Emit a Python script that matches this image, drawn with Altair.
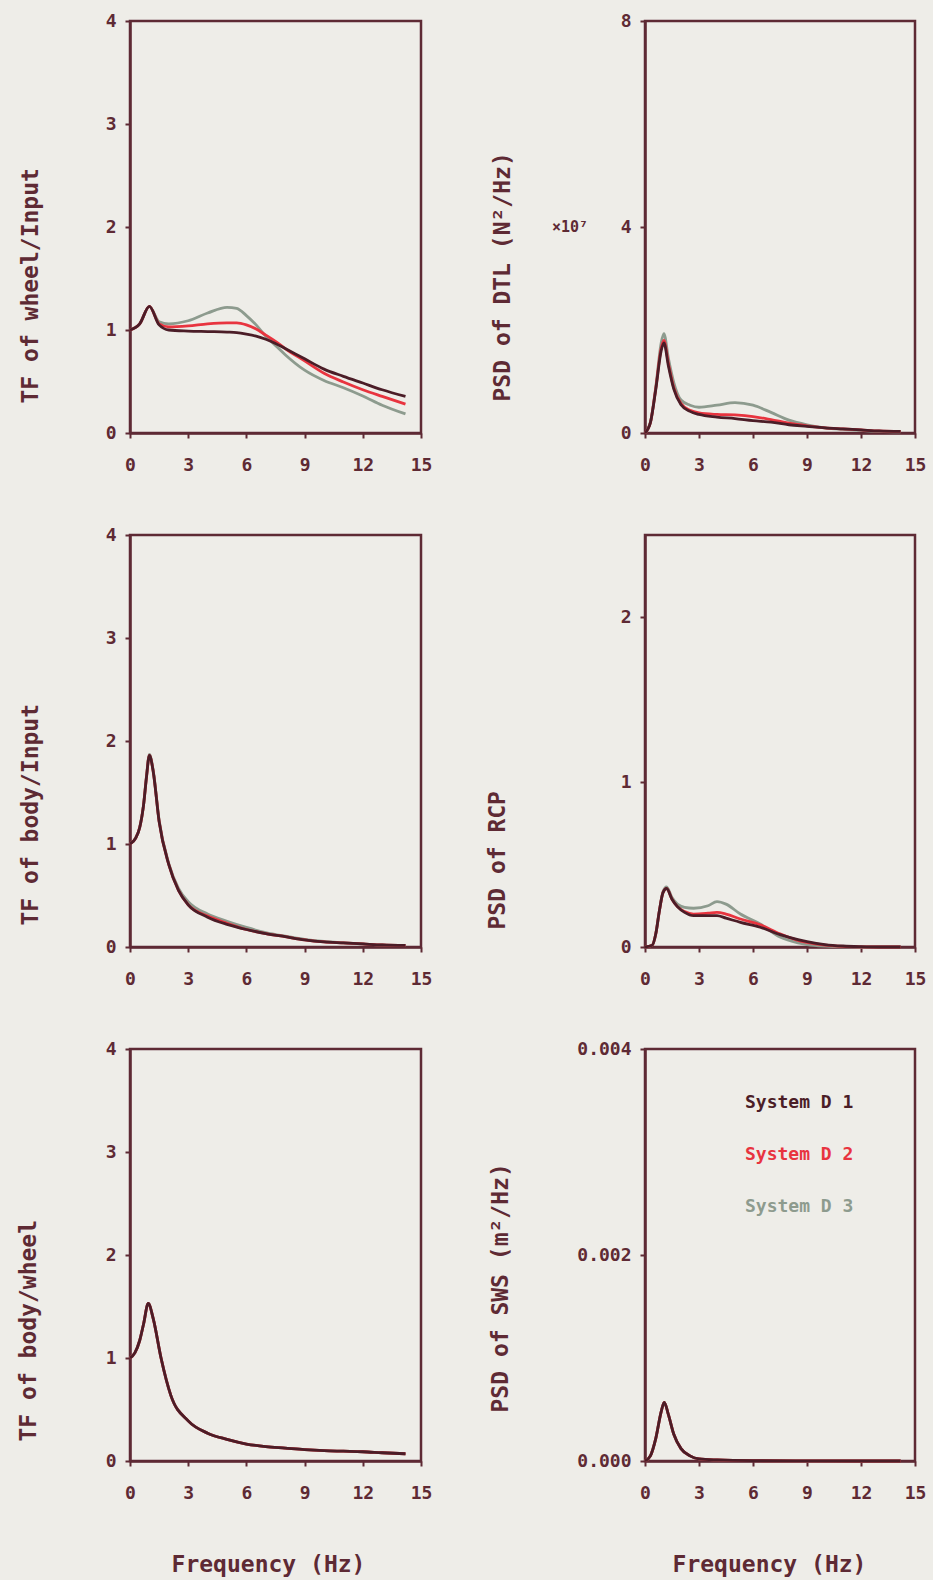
import altair as alt
import pandas as pd

# ---------------- data ----------------
SYSTEMS = ["System D 1", "System D 2", "System D 3"]
COLORS = ["#4b1d27", "#e8343f", "#8d9b8e"]
X_TICKS = [0, 3, 6, 9, 12, 15]

# Panel 1: TF of wheel/Input
F1 = [0, 0.5, 1.0, 1.5, 2, 3, 4, 5, 5.5, 6, 6.5, 7, 7.5, 8, 9, 10, 11, 12, 13, 14.2]
P1_D1 = [1.0, 1.06, 1.23, 1.05, 1.0, 0.99, 0.985, 0.98, 0.975, 0.96, 0.94, 0.91, 0.87, 0.82, 0.72, 0.62, 0.55, 0.485, 0.42, 0.355]
P1_D2 = [1.0, 1.06, 1.23, 1.06, 1.03, 1.04, 1.06, 1.07, 1.07, 1.05, 1.01, 0.95, 0.89, 0.82, 0.70, 0.58, 0.495, 0.42, 0.355, 0.28]
P1_D3 = [1.0, 1.06, 1.23, 1.08, 1.06, 1.09, 1.165, 1.22, 1.21, 1.14, 1.05, 0.94, 0.85, 0.76, 0.61, 0.51, 0.44, 0.36, 0.27, 0.185]

# Panel 2: PSD of DTL (x10^7)
F2 = [0, 0.3, 0.6, 0.9, 1.05, 1.3, 1.6, 2, 2.5, 3, 4, 5, 6, 7, 8, 9, 10, 11, 12, 13, 14.2]
P2_D1 = [0, 0.2, 0.85, 1.6, 1.75, 1.3, 0.85, 0.55, 0.42, 0.36, 0.31, 0.28, 0.24, 0.21, 0.16, 0.13, 0.1, 0.08, 0.06, 0.04, 0.03]
P2_D2 = [0, 0.2, 0.87, 1.65, 1.8, 1.35, 0.88, 0.57, 0.44, 0.39, 0.36, 0.35, 0.32, 0.26, 0.19, 0.14, 0.1, 0.08, 0.06, 0.04, 0.03]
P2_D3 = [0, 0.21, 0.9, 1.75, 1.93, 1.45, 0.98, 0.64, 0.54, 0.5, 0.54, 0.59, 0.54, 0.4, 0.25, 0.16, 0.1, 0.07, 0.05, 0.03, 0.02]

# Panel 3: TF of body/Input
F3 = [0, 0.3, 0.5, 0.7, 0.85, 1.0, 1.2, 1.5, 2, 2.5, 3, 4, 5, 6, 7, 8, 9, 10, 11, 12, 13, 14.2]
P3_D1 = [1.0, 1.06, 1.16, 1.38, 1.65, 1.86, 1.7, 1.22, 0.8, 0.55, 0.41, 0.29, 0.22, 0.17, 0.13, 0.1, 0.07, 0.05, 0.04, 0.03, 0.02, 0.015]
P3_D2 = [1.0, 1.06, 1.16, 1.38, 1.65, 1.86, 1.7, 1.22, 0.8, 0.55, 0.41, 0.3, 0.23, 0.17, 0.13, 0.1, 0.07, 0.05, 0.04, 0.03, 0.02, 0.015]
P3_D3 = [1.0, 1.06, 1.16, 1.38, 1.66, 1.87, 1.71, 1.23, 0.81, 0.57, 0.44, 0.32, 0.25, 0.19, 0.14, 0.105, 0.075, 0.055, 0.04, 0.03, 0.02, 0.015]

# Panel 4: PSD of RCP
F4 = [0, 0.4, 0.6, 0.8, 1.0, 1.2, 1.5, 1.8, 2.2, 2.7, 3.5, 4, 4.5, 5.3, 6.4, 7.5, 8.5, 9, 10, 11, 12, 13, 14.2]
P4_D1 = [0, 0.01, 0.08, 0.22, 0.33, 0.355, 0.29, 0.245, 0.21, 0.19, 0.19, 0.19, 0.175, 0.15, 0.12, 0.075, 0.045, 0.033, 0.015, 0.006, 0.002, 0, 0]
P4_D2 = [0, 0.01, 0.08, 0.22, 0.33, 0.355, 0.29, 0.245, 0.215, 0.2, 0.205, 0.21, 0.2, 0.17, 0.135, 0.08, 0.04, 0.028, 0.012, 0.004, 0.001, 0, 0]
P4_D3 = [0, 0.01, 0.08, 0.22, 0.335, 0.365, 0.3, 0.26, 0.24, 0.235, 0.25, 0.275, 0.26, 0.2, 0.14, 0.06, 0.025, 0.015, 0.005, 0.001, 0, 0, 0]

# Panel 5: TF of body/wheel
F5 = [0, 0.25, 0.5, 0.7, 0.94, 1.2, 1.6, 2.1, 3, 4, 5, 6, 7, 8, 9, 10, 11, 12, 13, 14.2]
P5_D1 = [1.0, 1.05, 1.17, 1.33, 1.53, 1.38, 1.0, 0.64, 0.39, 0.27, 0.21, 0.165, 0.14, 0.125, 0.11, 0.1, 0.095, 0.09, 0.08, 0.07]
P5_D2 = [1.0, 1.05, 1.17, 1.33, 1.53, 1.38, 1.0, 0.64, 0.39, 0.27, 0.21, 0.165, 0.14, 0.125, 0.11, 0.1, 0.095, 0.09, 0.08, 0.07]
P5_D3 = [1.0, 1.05, 1.17, 1.33, 1.53, 1.38, 1.0, 0.64, 0.39, 0.27, 0.21, 0.165, 0.14, 0.125, 0.11, 0.1, 0.095, 0.09, 0.08, 0.07]

# Panel 6: PSD of SWS
F6 = [0, 0.3, 0.6, 0.9, 1.07, 1.3, 1.6, 2, 2.5, 3, 4, 6, 9, 12, 14.2]
P6_D1 = [0, 0.00005, 0.00022, 0.00048, 0.00057, 0.00045, 0.00026, 0.00012, 0.00005, 0.00002, 0.00001, 0.000003, 0.000001, 0, 0]
P6_D2 = [0, 0.00005, 0.00022, 0.00048, 0.00057, 0.00045, 0.00026, 0.00012, 0.00005, 0.00002, 0.00001, 0.000003, 0.000001, 0, 0]
P6_D3 = [0, 0.00005, 0.00022, 0.00048, 0.00057, 0.00045, 0.00026, 0.00012, 0.00005, 0.00002, 0.00001, 0.000003, 0.000001, 0, 0]

# ---------------- style ----------------
AX = "#5e2a34"
BG = "#eeede8"
FONT = "DejaVu Sans Mono"
W_LEFT, W_RIGHT, H = 291, 270, 412


def make_df(freq, d1, d2, d3):
    rows = []
    for name, vals in [("System D 3", d3), ("System D 2", d2), ("System D 1", d1)]:
        for f, v in zip(freq, vals):
            rows.append({"f": f, "v": v, "series": name})
    return pd.DataFrame(rows)


def panel(df, width, ydom, yticks, yfmt, ytitle, tx, ty, xtitle=None, xtx=0,
          legend=None, note=None):
    xkw = dict(values=X_TICKS, format="d")
    if xtitle:
        xkw.update(title=xtitle, titleX=xtx, titleY=103, titleAlign="center",
                   titleBaseline="middle")
    else:
        xkw.update(title=None)
    xaxis = alt.Axis(**xkw)
    yaxis = alt.Axis(values=yticks, format=yfmt, title=ytitle, titleX=tx, titleY=ty,
                     titleAngle=270, titleAlign="left", titleBaseline="middle")
    xenc = alt.X("f:Q", scale=alt.Scale(domain=[0, 15], nice=False, zero=False), axis=xaxis)
    yenc = alt.Y("v:Q", scale=alt.Scale(domain=ydom, nice=False), axis=yaxis)
    color = alt.Color("series:N", scale=alt.Scale(domain=SYSTEMS, range=COLORS),
                      legend=legend)
    line = alt.Chart(df).mark_line(strokeWidth=2.8, interpolate="monotone").encode(
        x=xenc, y=yenc, color=color)
    layers = [line]
    if note is not None:
        ndf = pd.DataFrame({"v": [note[0]], "t": [note[1]]})
        layers.append(
            alt.Chart(ndf).mark_text(align="center", baseline="middle", font=FONT,
                                     fontSize=15, fontWeight="bold", color=AX).encode(
                x=alt.value(-75), y=alt.Y("v:Q", axis=yaxis), text="t:N"))
    return alt.layer(*layers).properties(width=width, height=H)


legend_expr = ("datum.value === 'System D 1' ? '%s' : datum.value === 'System D 2' ? '%s' : '%s'"
               % tuple(COLORS))
legend6 = alt.Legend(orient="none", legendX=82, legendY=45, title=None,
                     symbolOpacity=0, symbolSize=1, symbolStrokeWidth=0,
                     labelFont=FONT, labelFontSize=18, labelFontWeight="bold",
                     rowPadding=34, labelOffset=0, padding=0,
                     labelColor=alt.ExprRef(expr=legend_expr))

p1 = panel(make_df(F1, P1_D1, P1_D2, P1_D3), W_LEFT, [0, 4], [0, 1, 2, 3, 4], "d",
           "TF of wheel/Input", -100, 382)
p2 = panel(make_df(F2, P2_D1, P2_D2, P2_D3), W_RIGHT, [0, 8], [0, 4, 8], "d",
           "PSD of DTL (N²/Hz)", -143, 380, note=(4, "×10⁷"))
p3 = panel(make_df(F3, P3_D1, P3_D2, P3_D3), W_LEFT, [0, 4], [0, 1, 2, 3, 4], "d",
           "TF of body/Input", -100, 390)
p4 = panel(make_df(F4, P4_D1, P4_D2, P4_D3), W_RIGHT, [0, 2.5], [0, 1, 2], "d",
           "PSD of RCP", -148, 394)
p5 = panel(make_df(F5, P5_D1, P5_D2, P5_D3), W_LEFT, [0, 4], [0, 1, 2, 3, 4], "d",
           "TF of body/wheel", -102, 392, xtitle="Frequency (Hz)", xtx=138)
p6 = panel(make_df(F6, P6_D1, P6_D2, P6_D3), W_RIGHT, [0, 0.004], [0, 0.002, 0.004], ".3f",
           "PSD of SWS (m²/Hz)", -145, 363, xtitle="Frequency (Hz)", xtx=124,
           legend=legend6)

chart = alt.concat(p1, p2, p3, p4, p5, p6, columns=2,
                   spacing={"row": 102, "column": 224}, bounds="flush").resolve_scale(
    x="independent", y="independent", color="independent"
).properties(
    padding={"left": 15, "top": 10, "right": 5, "bottom": 5},
    background=BG,
).configure_view(
    stroke=AX, strokeWidth=2.5
).configure_axis(
    domainColor=AX, domainWidth=2.5, tickColor=AX, tickWidth=2, tickSize=5,
    labelColor=AX, labelFont=FONT, labelFontSize=18, labelFontWeight="bold",
    labelFlush=False, labelOverlap=False, grid=False,
    titleColor=AX, titleFont=FONT, titleFontSize=23, titleFontWeight="bold",
).configure_axisX(labelPadding=18).configure_axisY(labelPadding=9)

chart.save("out.html", embed_options={"renderer": "svg", "actions": False})
